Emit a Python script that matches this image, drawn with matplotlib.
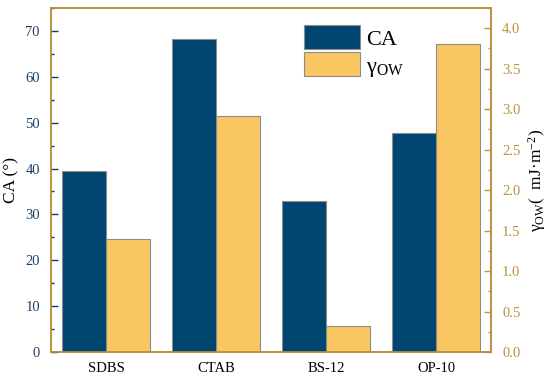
import numpy as np
import matplotlib
matplotlib.use('Agg')
import matplotlib.pyplot as plt
from matplotlib.ticker import MultipleLocator, FormatStrFormatter

# Data
samples = ['SDBS', 'CTAB', 'BS-12', 'OP-10']
ca = [39.5, 68.3, 32.9, 47.7]
gamma_ow = [1.40, 2.92, 0.32, 3.80]

plt.rcParams['font.family'] = 'Liberation Serif'
plt.rcParams['mathtext.fontset'] = 'custom'
plt.rcParams['mathtext.rm'] = 'Liberation Serif'
plt.rcParams['mathtext.it'] = 'Liberation Serif:italic'

blue = '#004470'
orange = '#FAC662'
gold = '#B8923C'
edge = '#8C8C8C'

fig = plt.figure(figsize=(5.5, 3.79), dpi=100)
ax1 = fig.add_axes([0.0927, 0.0712, 0.80, 0.9077])
ax2 = ax1.twinx()

x = np.arange(len(samples))
w = 0.4
b1 = ax1.bar(x - w / 2, ca, w, color=blue, edgecolor=edge, linewidth=0.8, label='CA')
b2 = ax2.bar(x + w / 2, gamma_ow, w, color=orange, edgecolor=edge, linewidth=0.8,
             label=r'γ$_{\mathrm{OW}}$')

ax1.set_xlim(-0.5, 3.5)
ax1.set_ylim(0, 75)
ax2.set_ylim(0, 4.25)
ax1.set_xticks(x)
ax1.set_xticklabels(samples, fontsize=10.5)
ax1.tick_params(axis='x', length=0, pad=7)

ax1.yaxis.set_major_locator(MultipleLocator(10))
ax1.yaxis.set_minor_locator(MultipleLocator(5))
ax2.yaxis.set_major_locator(MultipleLocator(0.5))
ax2.yaxis.set_minor_locator(MultipleLocator(0.25))
ax2.yaxis.set_major_formatter(FormatStrFormatter('%.1f'))

ax1.tick_params(axis='y', which='major', direction='in', length=5, width=1,
                color=blue, labelcolor='#1F3F66', labelsize=10.5, pad=8)
ax1.tick_params(axis='y', which='minor', direction='in', length=2.5, width=1, color=blue)
ax2.tick_params(axis='y', which='major', direction='in', length=5, width=1,
                color=gold, labelcolor=gold, labelsize=10.5, pad=8)
ax2.tick_params(axis='y', which='minor', direction='in', length=2.5, width=1, color=gold)

for ax in (ax1, ax2):
    for s in ax.spines.values():
        s.set_color(gold)
        s.set_linewidth(1.2)

ax1.set_ylabel('CA (°)', fontsize=12.5, labelpad=4)
ax2.set_ylabel(r'γ$_{\mathrm{OW}}$(  mJ·m$^{-2}$)', fontsize=12.5, labelpad=4)

ax1.set_zorder(ax2.get_zorder() + 1)
ax1.patch.set_visible(False)

leg = ax1.legend(handles=[b1, b2], loc='upper left', bbox_to_anchor=(0.54, 0.995),
                 frameon=False, fontsize=16, handlelength=2.5, handleheight=1.3,
                 handletextpad=0.3, labelspacing=0.1, borderpad=0.2)

fig.savefig('out.png', dpi=100)
